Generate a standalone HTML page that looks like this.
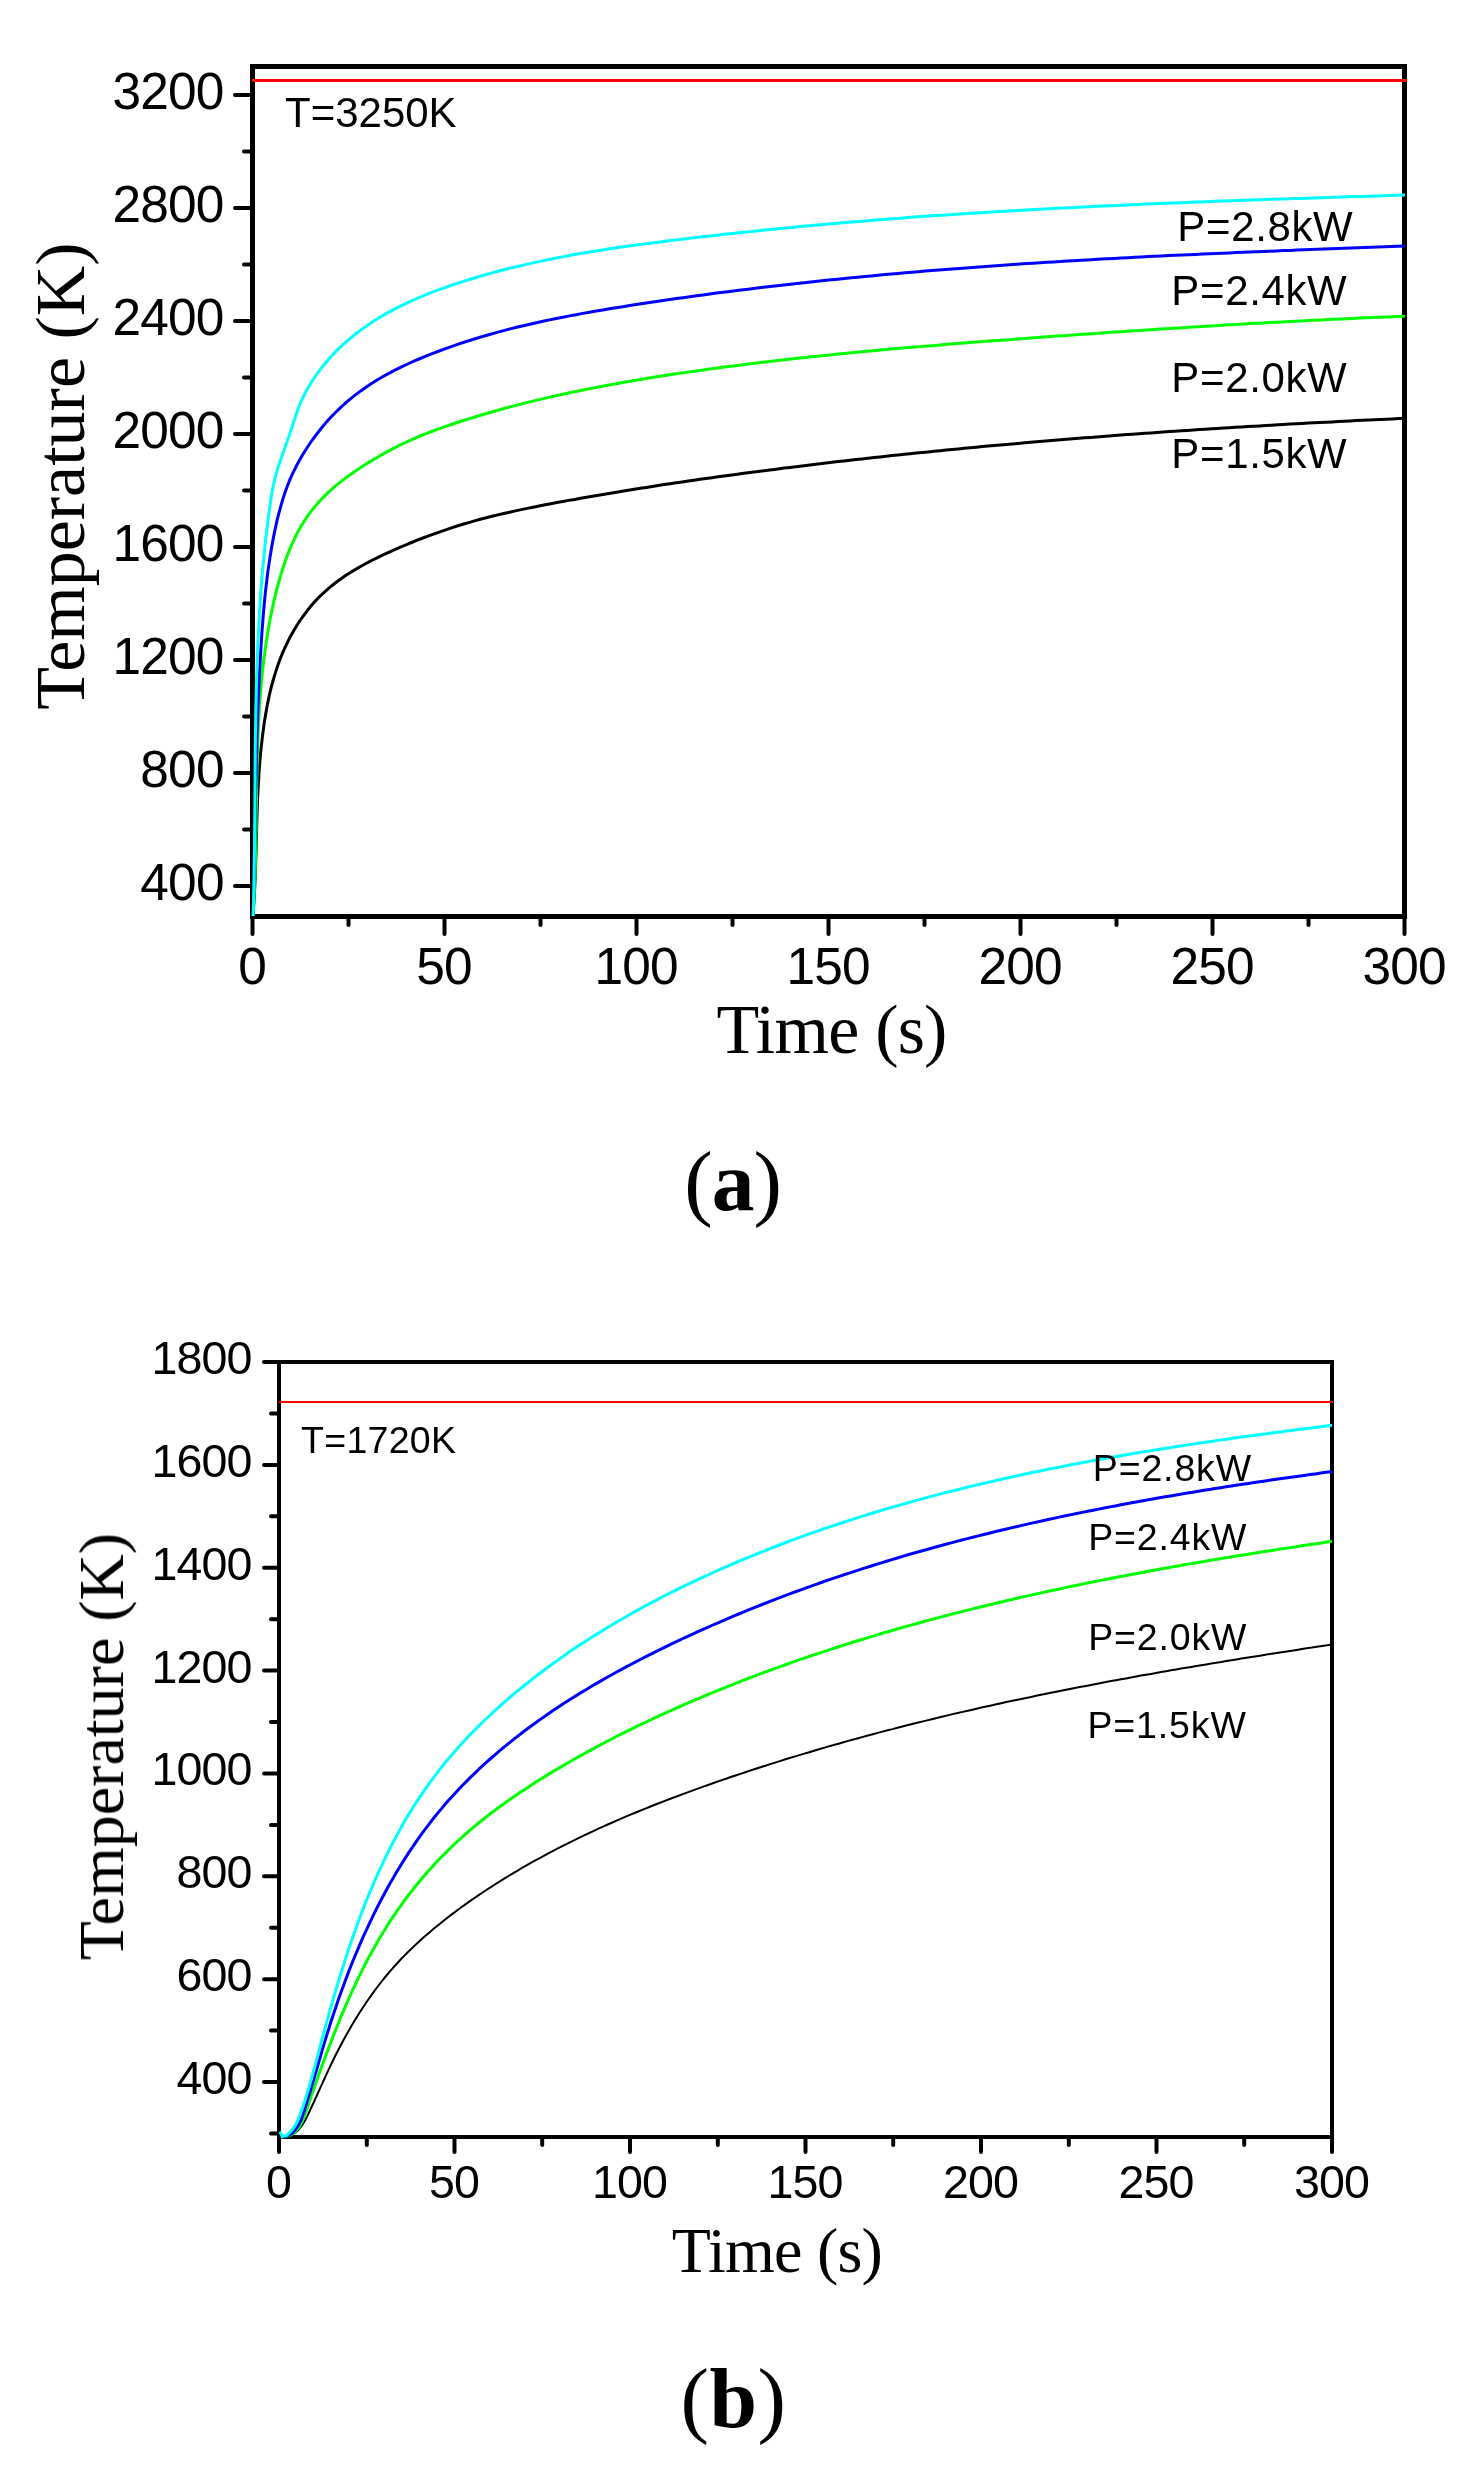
<!DOCTYPE html>
<html><head><meta charset="utf-8"><title>Temperature vs time</title>
<style>
html,body{margin:0;padding:0;background:#fff;}
body{width:1472px;height:2466px;overflow:hidden;}
svg{display:block;}
text{font-family:"Liberation Sans",sans-serif;fill:#000;will-change:transform;}
.ser{font-family:"Liberation Serif",serif;}
.tk{stroke:#000;stroke-linecap:round;fill:none;}
.ax{fill:#000;}
.cv{fill:none;stroke-linejoin:round;stroke-linecap:butt;}
</style></head><body>
<svg width="1472" height="2466" viewBox="0 0 1472 2466">
<rect x="0" y="0" width="1472" height="2466" fill="#fff"/>
<g>
<rect class="ax" x="250.0" y="64.0" width="1157.0" height="5.0"/>
<rect class="ax" x="250.0" y="914.0" width="1157.0" height="5.0"/>
<rect class="ax" x="250.0" y="64.0" width="5.0" height="855.0"/>
<rect class="ax" x="1402.0" y="64.0" width="5.0" height="855.0"/>
<line class="tk" stroke-width="4.0" x1="235.0" y1="886.0" x2="252.5" y2="886.0"/>
<text x="223.7" y="900.0" font-size="51.4" letter-spacing="-0.78" text-anchor="end">400</text>
<line class="tk" stroke-width="4.0" x1="244.0" y1="829.5" x2="252.5" y2="829.5"/>
<line class="tk" stroke-width="4.0" x1="235.0" y1="773.0" x2="252.5" y2="773.0"/>
<text x="223.7" y="787.0" font-size="51.4" letter-spacing="-0.78" text-anchor="end">800</text>
<line class="tk" stroke-width="4.0" x1="244.0" y1="716.5" x2="252.5" y2="716.5"/>
<line class="tk" stroke-width="4.0" x1="235.0" y1="660.0" x2="252.5" y2="660.0"/>
<text x="223.7" y="674.0" font-size="51.4" letter-spacing="-0.78" text-anchor="end">1200</text>
<line class="tk" stroke-width="4.0" x1="244.0" y1="603.5" x2="252.5" y2="603.5"/>
<line class="tk" stroke-width="4.0" x1="235.0" y1="547.0" x2="252.5" y2="547.0"/>
<text x="223.7" y="561.0" font-size="51.4" letter-spacing="-0.78" text-anchor="end">1600</text>
<line class="tk" stroke-width="4.0" x1="244.0" y1="490.5" x2="252.5" y2="490.5"/>
<line class="tk" stroke-width="4.0" x1="235.0" y1="434.0" x2="252.5" y2="434.0"/>
<text x="223.7" y="448.0" font-size="51.4" letter-spacing="-0.78" text-anchor="end">2000</text>
<line class="tk" stroke-width="4.0" x1="244.0" y1="377.5" x2="252.5" y2="377.5"/>
<line class="tk" stroke-width="4.0" x1="235.0" y1="321.0" x2="252.5" y2="321.0"/>
<text x="223.7" y="335.0" font-size="51.4" letter-spacing="-0.78" text-anchor="end">2400</text>
<line class="tk" stroke-width="4.0" x1="244.0" y1="264.5" x2="252.5" y2="264.5"/>
<line class="tk" stroke-width="4.0" x1="235.0" y1="208.0" x2="252.5" y2="208.0"/>
<text x="223.7" y="222.0" font-size="51.4" letter-spacing="-0.78" text-anchor="end">2800</text>
<line class="tk" stroke-width="4.0" x1="244.0" y1="151.5" x2="252.5" y2="151.5"/>
<line class="tk" stroke-width="4.0" x1="235.0" y1="95.0" x2="252.5" y2="95.0"/>
<text x="223.7" y="109.0" font-size="51.4" letter-spacing="-0.78" text-anchor="end">3200</text>
<line class="tk" stroke-width="4.0" x1="252.5" y1="916.5" x2="252.5" y2="934.0"/>
<text x="252.1" y="984.0" font-size="51.4" letter-spacing="-0.78" text-anchor="middle">0</text>
<line class="tk" stroke-width="4.0" x1="348.5" y1="916.5" x2="348.5" y2="925.0"/>
<line class="tk" stroke-width="4.0" x1="444.5" y1="916.5" x2="444.5" y2="934.0"/>
<text x="444.1" y="984.0" font-size="51.4" letter-spacing="-0.78" text-anchor="middle">50</text>
<line class="tk" stroke-width="4.0" x1="540.5" y1="916.5" x2="540.5" y2="925.0"/>
<line class="tk" stroke-width="4.0" x1="636.5" y1="916.5" x2="636.5" y2="934.0"/>
<text x="636.1" y="984.0" font-size="51.4" letter-spacing="-0.78" text-anchor="middle">100</text>
<line class="tk" stroke-width="4.0" x1="732.5" y1="916.5" x2="732.5" y2="925.0"/>
<line class="tk" stroke-width="4.0" x1="828.5" y1="916.5" x2="828.5" y2="934.0"/>
<text x="828.1" y="984.0" font-size="51.4" letter-spacing="-0.78" text-anchor="middle">150</text>
<line class="tk" stroke-width="4.0" x1="924.5" y1="916.5" x2="924.5" y2="925.0"/>
<line class="tk" stroke-width="4.0" x1="1020.5" y1="916.5" x2="1020.5" y2="934.0"/>
<text x="1020.1" y="984.0" font-size="51.4" letter-spacing="-0.78" text-anchor="middle">200</text>
<line class="tk" stroke-width="4.0" x1="1116.5" y1="916.5" x2="1116.5" y2="925.0"/>
<line class="tk" stroke-width="4.0" x1="1212.5" y1="916.5" x2="1212.5" y2="934.0"/>
<text x="1212.1" y="984.0" font-size="51.4" letter-spacing="-0.78" text-anchor="middle">250</text>
<line class="tk" stroke-width="4.0" x1="1308.5" y1="916.5" x2="1308.5" y2="925.0"/>
<line class="tk" stroke-width="4.0" x1="1404.5" y1="916.5" x2="1404.5" y2="934.0"/>
<text x="1404.1" y="984.0" font-size="51.4" letter-spacing="-0.78" text-anchor="middle">300</text>
<path class="cv" stroke="#000" stroke-width="3" d="M253.0,916.0 L253.4,909.9 L253.8,903.9 L254.2,897.9 L254.5,891.8 L254.8,885.8 L255.1,879.7 L255.3,873.7 L255.5,867.6 L255.7,861.6 L255.9,855.5 L256.1,849.5 L256.2,843.5 L256.4,837.4 L256.6,831.4 L256.7,825.3 L256.9,819.3 L257.1,813.3 L257.3,807.3 L257.5,801.2 L257.8,795.2 L258.1,789.2 L258.4,783.2 L258.8,777.1 L259.1,771.1 L259.6,765.1 L260.1,759.1 L260.6,753.1 L261.2,747.1 L261.9,741.1 L262.6,735.1 L263.4,729.1 L264.2,723.1 L265.2,717.1 L266.2,711.1 L267.3,705.1 L268.5,699.2 L269.8,693.3 L271.2,687.4 L272.8,681.5 L274.5,675.7 L276.3,669.9 L278.2,664.2 L280.3,658.5 L282.6,652.9 L285.1,647.3 L287.7,641.9 L290.4,636.5 L293.4,631.2 L296.5,626.0 L299.7,621.0 L303.2,616.1 L306.8,611.3 L310.5,606.6 L314.4,602.1 L318.5,597.7 L322.8,593.6 L327.2,589.6 L331.8,585.7 L336.5,582.0 L341.4,578.5 L346.3,575.1 L351.4,571.9 L356.6,568.8 L361.9,565.7 L367.2,562.8 L372.6,560.0 L378.1,557.3 L383.6,554.7 L389.2,552.1 L394.8,549.6 L400.4,547.2 L406.0,544.8 L411.6,542.5 L417.2,540.2 L422.9,538.0 L428.6,535.9 L434.2,533.8 L439.9,531.8 L445.7,529.8 L451.4,527.9 L457.1,526.0 L462.9,524.3 L468.7,522.6 L474.5,520.9 L480.3,519.3 L486.1,517.8 L492.0,516.3 L497.8,514.9 L503.7,513.5 L509.6,512.2 L515.4,510.9 L521.3,509.6 L527.2,508.4 L533.2,507.2 L539.1,506.0 L545.0,504.8 L550.9,503.7 L556.9,502.6 L562.8,501.5 L568.7,500.4 L574.7,499.4 L580.6,498.3 L586.6,497.2 L592.5,496.2 L598.5,495.2 L604.5,494.2 L610.4,493.2 L616.4,492.2 L622.3,491.2 L628.3,490.2 L634.3,489.3 L640.2,488.3 L646.2,487.4 L652.2,486.4 L658.2,485.5 L664.1,484.6 L670.1,483.7 L676.1,482.8 L682.1,481.9 L688.1,481.1 L694.1,480.2 L700.0,479.3 L706.0,478.5 L712.0,477.7 L718.0,476.8 L724.0,476.0 L730.0,475.2 L736.0,474.4 L742.0,473.6 L748.0,472.8 L754.0,472.0 L760.0,471.2 L766.0,470.4 L772.0,469.7 L778.0,468.9 L784.0,468.1 L790.0,467.4 L796.0,466.7 L802.0,465.9 L808.0,465.2 L814.0,464.5 L820.0,463.7 L826.0,463.0 L832.0,462.3 L838.0,461.6 L844.0,460.9 L850.0,460.3 L856.0,459.6 L862.0,458.9 L868.0,458.2 L874.1,457.6 L880.1,456.9 L886.1,456.3 L892.1,455.6 L898.1,455.0 L904.1,454.3 L910.1,453.7 L916.1,453.1 L922.1,452.5 L928.2,451.9 L934.2,451.3 L940.2,450.7 L946.2,450.1 L952.2,449.5 L958.2,448.9 L964.3,448.3 L970.3,447.7 L976.3,447.2 L982.3,446.6 L988.3,446.1 L994.3,445.5 L1000.4,445.0 L1006.4,444.4 L1012.4,443.9 L1018.4,443.4 L1024.5,442.8 L1030.5,442.3 L1036.5,441.8 L1042.5,441.3 L1048.5,440.8 L1054.6,440.3 L1060.6,439.8 L1066.6,439.3 L1072.6,438.8 L1078.7,438.3 L1084.7,437.8 L1090.7,437.4 L1096.7,436.9 L1102.8,436.4 L1108.8,436.0 L1114.8,435.5 L1120.9,435.1 L1126.9,434.6 L1132.9,434.2 L1138.9,433.8 L1145.0,433.3 L1151.0,432.9 L1157.0,432.5 L1163.1,432.1 L1169.1,431.6 L1175.1,431.2 L1181.2,430.8 L1187.2,430.4 L1193.2,430.0 L1199.2,429.6 L1205.3,429.2 L1211.3,428.8 L1217.3,428.5 L1223.4,428.1 L1229.4,427.7 L1235.4,427.3 L1241.5,427.0 L1247.5,426.6 L1253.6,426.2 L1259.6,425.9 L1265.6,425.5 L1271.7,425.2 L1277.7,424.8 L1283.7,424.5 L1289.8,424.1 L1295.8,423.8 L1301.8,423.5 L1307.9,423.1 L1313.9,422.8 L1320.0,422.5 L1326.0,422.2 L1332.0,421.9 L1338.1,421.5 L1344.1,421.2 L1350.1,420.9 L1356.2,420.6 L1362.2,420.3 L1368.3,420.0 L1374.3,419.7 L1380.3,419.4 L1386.4,419.2 L1392.4,418.9 L1398.5,418.6 L1404.5,418.3"/>
<path class="cv" stroke="#0f0" stroke-width="3" d="M253.0,916.0 L253.4,909.6 L253.8,903.1 L254.1,896.7 L254.4,890.3 L254.7,883.8 L255.0,877.4 L255.2,870.9 L255.4,864.5 L255.5,858.0 L255.7,851.5 L255.8,845.1 L255.9,838.6 L256.1,832.1 L256.2,825.7 L256.2,819.2 L256.3,812.7 L256.4,806.3 L256.5,799.8 L256.6,793.3 L256.7,786.8 L256.8,780.4 L256.9,773.9 L257.1,767.4 L257.2,761.0 L257.4,754.5 L257.6,748.1 L257.8,741.6 L258.0,735.1 L258.3,728.7 L258.6,722.2 L259.0,715.8 L259.3,709.4 L259.7,702.9 L260.2,696.5 L260.7,690.1 L261.3,683.6 L261.9,677.2 L262.5,670.8 L263.3,664.4 L264.0,658.0 L264.9,651.6 L265.8,645.3 L266.7,638.9 L267.8,632.5 L268.9,626.2 L270.0,619.8 L271.3,613.5 L272.6,607.1 L274.0,600.8 L275.5,594.5 L277.1,588.2 L278.8,581.9 L280.6,575.6 L282.5,569.4 L284.5,563.2 L286.7,557.1 L289.0,551.1 L291.5,545.1 L294.2,539.3 L297.0,533.5 L300.1,527.9 L303.4,522.4 L306.8,517.1 L310.6,511.9 L314.6,506.9 L318.8,502.0 L323.2,497.4 L327.8,492.9 L332.5,488.5 L337.5,484.3 L342.5,480.3 L347.7,476.5 L353.0,472.7 L358.4,469.1 L363.8,465.5 L369.3,462.1 L374.8,458.7 L380.4,455.5 L386.0,452.3 L391.7,449.3 L397.4,446.4 L403.2,443.5 L409.1,440.8 L415.0,438.2 L420.9,435.7 L426.9,433.3 L432.9,431.0 L439.0,428.8 L445.0,426.6 L451.2,424.5 L457.3,422.5 L463.4,420.5 L469.6,418.6 L475.8,416.7 L482.0,414.8 L488.2,413.0 L494.4,411.2 L500.6,409.5 L506.8,407.8 L513.0,406.1 L519.3,404.5 L525.6,402.9 L531.8,401.4 L538.1,399.9 L544.4,398.4 L550.7,396.9 L557.0,395.5 L563.3,394.1 L569.6,392.8 L575.9,391.5 L582.2,390.2 L588.6,388.9 L594.9,387.7 L601.3,386.4 L607.6,385.3 L614.0,384.1 L620.3,383.0 L626.7,381.8 L633.1,380.7 L639.4,379.7 L645.8,378.6 L652.2,377.6 L658.6,376.6 L664.9,375.6 L671.3,374.6 L677.7,373.6 L684.1,372.7 L690.5,371.8 L696.9,370.9 L703.3,370.0 L709.7,369.1 L716.1,368.2 L722.5,367.3 L728.9,366.5 L735.3,365.7 L741.7,364.9 L748.1,364.0 L754.5,363.3 L760.9,362.5 L767.4,361.7 L773.8,361.0 L780.2,360.2 L786.6,359.5 L793.0,358.8 L799.4,358.1 L805.9,357.4 L812.3,356.7 L818.7,356.0 L825.1,355.4 L831.5,354.7 L838.0,354.1 L844.4,353.4 L850.8,352.8 L857.3,352.2 L863.7,351.6 L870.1,351.0 L876.5,350.4 L883.0,349.8 L889.4,349.2 L895.8,348.6 L902.3,348.1 L908.7,347.5 L915.1,347.0 L921.6,346.4 L928.0,345.9 L934.5,345.4 L940.9,344.9 L947.3,344.3 L953.8,343.8 L960.2,343.3 L966.6,342.8 L973.1,342.3 L979.5,341.8 L986.0,341.3 L992.4,340.8 L998.8,340.4 L1005.3,339.9 L1011.7,339.4 L1018.2,338.9 L1024.6,338.5 L1031.1,338.0 L1037.5,337.5 L1043.9,337.1 L1050.4,336.6 L1056.8,336.1 L1063.3,335.7 L1069.7,335.2 L1076.2,334.8 L1082.6,334.3 L1089.0,333.9 L1095.5,333.4 L1101.9,333.0 L1108.4,332.5 L1114.8,332.1 L1121.3,331.7 L1127.7,331.2 L1134.1,330.8 L1140.6,330.4 L1147.0,330.0 L1153.5,329.5 L1159.9,329.1 L1166.4,328.7 L1172.8,328.3 L1179.3,327.9 L1185.7,327.5 L1192.2,327.1 L1198.6,326.7 L1205.0,326.3 L1211.5,325.9 L1217.9,325.5 L1224.4,325.1 L1230.8,324.8 L1237.3,324.4 L1243.7,324.0 L1250.2,323.6 L1256.6,323.3 L1263.1,322.9 L1269.5,322.6 L1276.0,322.2 L1282.4,321.9 L1288.9,321.5 L1295.3,321.2 L1301.8,320.9 L1308.2,320.5 L1314.7,320.2 L1321.1,319.9 L1327.6,319.6 L1334.0,319.3 L1340.5,319.0 L1346.9,318.7 L1353.4,318.4 L1359.8,318.1 L1366.3,317.8 L1372.7,317.5 L1379.2,317.2 L1385.6,317.0 L1392.1,316.7 L1398.5,316.5 L1405.0,316.2"/>
<path class="cv" stroke="#00f" stroke-width="3" d="M253.0,916.0 L253.2,909.2 L253.4,902.5 L253.6,895.7 L253.7,888.9 L253.9,882.1 L254.0,875.4 L254.2,868.6 L254.3,861.8 L254.5,855.1 L254.6,848.3 L254.7,841.5 L254.9,834.8 L255.0,828.0 L255.1,821.2 L255.2,814.5 L255.4,807.7 L255.5,801.0 L255.6,794.2 L255.8,787.4 L255.9,780.7 L256.1,773.9 L256.2,767.2 L256.4,760.4 L256.5,753.6 L256.7,746.9 L256.9,740.1 L257.1,733.4 L257.3,726.6 L257.6,719.8 L257.8,713.1 L258.0,706.3 L258.3,699.6 L258.6,692.8 L258.9,686.0 L259.2,679.3 L259.5,672.5 L259.9,665.8 L260.3,659.0 L260.7,652.2 L261.1,645.5 L261.5,638.7 L262.0,632.0 L262.5,625.2 L263.0,618.4 L263.6,611.7 L264.2,604.9 L264.8,598.2 L265.5,591.4 L266.3,584.7 L267.1,578.0 L267.9,571.3 L268.9,564.6 L269.9,557.9 L271.0,551.2 L272.1,544.6 L273.4,537.9 L274.7,531.3 L276.1,524.7 L277.6,518.1 L279.3,511.6 L281.1,505.1 L283.0,498.6 L285.1,492.2 L287.4,485.9 L289.9,479.6 L292.7,473.4 L295.7,467.3 L298.9,461.3 L302.2,455.5 L305.8,449.7 L309.5,444.0 L313.4,438.5 L317.5,433.1 L321.7,427.8 L326.0,422.6 L330.6,417.6 L335.2,412.8 L340.0,408.1 L345.0,403.5 L350.1,399.1 L355.4,394.9 L360.7,390.9 L366.3,387.0 L371.9,383.3 L377.6,379.7 L383.5,376.3 L389.4,373.1 L395.4,369.9 L401.5,366.9 L407.7,364.0 L413.9,361.2 L420.2,358.5 L426.5,355.9 L432.8,353.4 L439.1,351.0 L445.5,348.6 L451.9,346.4 L458.3,344.2 L464.7,342.0 L471.1,340.0 L477.6,338.0 L484.1,336.0 L490.6,334.2 L497.1,332.4 L503.6,330.6 L510.1,328.9 L516.7,327.3 L523.3,325.7 L529.8,324.2 L536.4,322.7 L543.0,321.3 L549.6,319.9 L556.3,318.5 L562.9,317.2 L569.5,315.9 L576.2,314.7 L582.8,313.4 L589.5,312.2 L596.2,311.1 L602.8,310.0 L609.5,308.8 L616.2,307.8 L622.9,306.7 L629.6,305.6 L636.2,304.6 L642.9,303.6 L649.6,302.6 L656.3,301.6 L663.0,300.6 L669.7,299.6 L676.4,298.6 L683.1,297.7 L689.8,296.7 L696.5,295.8 L703.2,294.9 L709.9,294.0 L716.6,293.1 L723.3,292.3 L730.0,291.4 L736.8,290.5 L743.5,289.7 L750.2,288.9 L756.9,288.1 L763.6,287.3 L770.3,286.5 L777.1,285.7 L783.8,284.9 L790.5,284.2 L797.2,283.4 L804.0,282.7 L810.7,282.0 L817.4,281.2 L824.1,280.5 L830.9,279.8 L837.6,279.2 L844.3,278.5 L851.1,277.8 L857.8,277.2 L864.5,276.5 L871.3,275.9 L878.0,275.3 L884.7,274.6 L891.5,274.0 L898.2,273.4 L905.0,272.8 L911.7,272.3 L918.4,271.7 L925.2,271.1 L931.9,270.6 L938.7,270.0 L945.4,269.5 L952.2,269.0 L958.9,268.4 L965.7,267.9 L972.4,267.4 L979.2,266.9 L985.9,266.4 L992.7,265.9 L999.4,265.5 L1006.2,265.0 L1012.9,264.5 L1019.7,264.1 L1026.4,263.6 L1033.2,263.2 L1040.0,262.8 L1046.7,262.3 L1053.5,261.9 L1060.2,261.5 L1067.0,261.1 L1073.7,260.7 L1080.5,260.3 L1087.3,259.9 L1094.0,259.5 L1100.8,259.1 L1107.5,258.8 L1114.3,258.4 L1121.1,258.0 L1127.8,257.7 L1134.6,257.3 L1141.3,257.0 L1148.1,256.6 L1154.9,256.3 L1161.6,256.0 L1168.4,255.6 L1175.2,255.3 L1181.9,255.0 L1188.7,254.7 L1195.4,254.4 L1202.2,254.1 L1209.0,253.8 L1215.7,253.5 L1222.5,253.2 L1229.3,252.9 L1236.0,252.6 L1242.8,252.3 L1249.5,252.0 L1256.3,251.7 L1263.1,251.5 L1269.8,251.2 L1276.6,250.9 L1283.3,250.6 L1290.1,250.4 L1296.9,250.1 L1303.6,249.8 L1310.4,249.6 L1317.2,249.3 L1323.9,249.1 L1330.7,248.8 L1337.4,248.6 L1344.2,248.3 L1350.9,248.1 L1357.7,247.8 L1364.5,247.6 L1371.2,247.3 L1378.0,247.1 L1384.7,246.8 L1391.5,246.6 L1398.2,246.3 L1405.0,246.1"/>
<path class="cv" stroke="#0ff" stroke-width="3" d="M253.2,916.0 L253.4,909.0 L253.6,902.0 L253.7,895.0 L253.9,888.0 L254.0,881.0 L254.1,874.0 L254.2,867.0 L254.3,860.0 L254.4,853.0 L254.5,846.0 L254.6,839.0 L254.6,832.0 L254.7,825.0 L254.8,818.0 L254.8,811.0 L254.9,803.9 L254.9,796.9 L255.0,789.9 L255.0,782.9 L255.1,775.9 L255.1,768.8 L255.2,761.8 L255.2,754.8 L255.3,747.8 L255.4,740.7 L255.5,733.7 L255.6,726.7 L255.7,719.7 L255.8,712.6 L255.9,705.6 L256.1,698.6 L256.3,691.6 L256.4,684.6 L256.6,677.6 L256.9,670.5 L257.1,663.5 L257.3,656.5 L257.6,649.5 L257.9,642.5 L258.2,635.5 L258.6,628.5 L259.0,621.5 L259.4,614.5 L259.8,607.5 L260.3,600.5 L260.7,593.5 L261.3,586.5 L261.8,579.5 L262.4,572.6 L263.0,565.6 L263.7,558.6 L264.4,551.7 L265.1,544.7 L265.9,537.7 L266.7,530.8 L267.6,523.8 L268.4,516.9 L269.4,509.9 L270.4,503.0 L271.4,496.1 L272.6,489.2 L274.0,482.3 L275.6,475.5 L277.6,468.8 L279.8,462.2 L282.1,455.6 L284.5,448.9 L286.8,442.3 L289.2,435.7 L291.4,429.0 L293.5,422.4 L295.7,415.7 L298.0,409.1 L300.6,402.6 L303.5,396.3 L306.8,390.1 L310.3,384.0 L314.1,378.1 L318.1,372.3 L322.4,366.7 L326.9,361.3 L331.6,356.0 L336.4,350.9 L341.5,346.0 L346.7,341.3 L352.0,336.8 L357.5,332.5 L363.1,328.4 L368.8,324.4 L374.6,320.6 L380.5,316.9 L386.5,313.4 L392.7,310.1 L398.9,306.9 L405.2,303.8 L411.5,300.8 L417.9,298.0 L424.4,295.3 L431.0,292.7 L437.6,290.2 L444.2,287.8 L450.9,285.5 L457.6,283.2 L464.3,281.1 L471.0,279.0 L477.7,277.0 L484.5,275.0 L491.2,273.1 L498.0,271.3 L504.8,269.5 L511.6,267.8 L518.4,266.2 L525.3,264.6 L532.1,263.1 L538.9,261.6 L545.8,260.1 L552.7,258.7 L559.5,257.4 L566.4,256.1 L573.3,254.8 L580.2,253.6 L587.1,252.5 L594.0,251.3 L600.9,250.2 L607.9,249.1 L614.8,248.1 L621.7,247.1 L628.7,246.1 L635.6,245.1 L642.6,244.2 L649.5,243.3 L656.5,242.4 L663.4,241.5 L670.4,240.6 L677.3,239.8 L684.3,238.9 L691.3,238.1 L698.2,237.3 L705.2,236.5 L712.2,235.7 L719.1,234.9 L726.1,234.1 L733.1,233.4 L740.0,232.6 L747.0,231.9 L754.0,231.2 L761.0,230.4 L767.9,229.7 L774.9,229.0 L781.9,228.3 L788.9,227.7 L795.8,227.0 L802.8,226.3 L809.8,225.7 L816.8,225.1 L823.8,224.4 L830.8,223.8 L837.7,223.2 L844.7,222.6 L851.7,222.0 L858.7,221.4 L865.7,220.9 L872.7,220.3 L879.7,219.8 L886.7,219.2 L893.7,218.7 L900.6,218.2 L907.6,217.6 L914.6,217.1 L921.6,216.6 L928.6,216.1 L935.6,215.6 L942.6,215.2 L949.6,214.7 L956.6,214.2 L963.6,213.8 L970.6,213.3 L977.6,212.9 L984.6,212.4 L991.6,212.0 L998.6,211.6 L1005.6,211.2 L1012.6,210.8 L1019.6,210.4 L1026.6,210.0 L1033.6,209.6 L1040.6,209.2 L1047.6,208.8 L1054.6,208.4 L1061.6,208.1 L1068.6,207.7 L1075.6,207.4 L1082.7,207.0 L1089.7,206.7 L1096.7,206.3 L1103.7,206.0 L1110.7,205.7 L1117.7,205.4 L1124.7,205.0 L1131.7,204.7 L1138.7,204.4 L1145.7,204.1 L1152.7,203.8 L1159.7,203.5 L1166.7,203.2 L1173.8,203.0 L1180.8,202.7 L1187.8,202.4 L1194.8,202.1 L1201.8,201.9 L1208.8,201.6 L1215.8,201.3 L1222.8,201.1 L1229.8,200.8 L1236.8,200.6 L1243.8,200.3 L1250.9,200.1 L1257.9,199.8 L1264.9,199.6 L1271.9,199.3 L1278.9,199.1 L1285.9,198.9 L1292.9,198.6 L1299.9,198.4 L1306.9,198.2 L1313.9,197.9 L1320.9,197.7 L1327.9,197.5 L1334.9,197.3 L1342.0,197.0 L1349.0,196.8 L1356.0,196.6 L1363.0,196.4 L1370.0,196.2 L1377.0,196.0 L1384.0,195.7 L1391.0,195.5 L1398.0,195.3 L1405.0,195.1"/>
<rect x="252.0" y="79.0" width="1155.0" height="3.0" fill="#f00"/>
<text x="285.0" y="127.0" font-size="42" letter-spacing="0">T=3250K</text>
<text x="1177.3" y="241.3" font-size="42" letter-spacing="0.65">P=2.8kW</text>
<text x="1171.3" y="305.0" font-size="42" letter-spacing="0.65">P=2.4kW</text>
<text x="1171.3" y="391.5" font-size="42" letter-spacing="0.65">P=2.0kW</text>
<text x="1171.3" y="467.5" font-size="42" letter-spacing="0.65">P=1.5kW</text>
<text class="ser" x="831.5" y="1053.4" font-size="70" text-anchor="middle" letter-spacing="-0.8">Time (s)</text>
<text class="ser" transform="translate(84.0,476.0) rotate(-90)" font-size="70" text-anchor="middle">Temperature (K)</text>
<text class="ser" x="732.7" y="1210.0" font-size="85.5" text-anchor="middle" letter-spacing="-1">(<tspan font-weight="bold">a</tspan>)</text>
</g>
<g>
<rect class="ax" x="277.0" y="1360.0" width="1057.0" height="4.0"/>
<rect class="ax" x="277.0" y="2135.0" width="1057.0" height="4.0"/>
<rect class="ax" x="277.0" y="1360.0" width="4.0" height="779.0"/>
<rect class="ax" x="1330.0" y="1360.0" width="4.0" height="779.0"/>
<line class="tk" stroke-width="4.0" x1="271.0" y1="2133.4" x2="279.0" y2="2133.4"/>
<line class="tk" stroke-width="4.0" x1="264.0" y1="2082.0" x2="279.0" y2="2082.0"/>
<text x="251.6" y="2094.0" font-size="46.6" letter-spacing="-0.89" text-anchor="end">400</text>
<line class="tk" stroke-width="4.0" x1="271.0" y1="2030.6" x2="279.0" y2="2030.6"/>
<line class="tk" stroke-width="4.0" x1="264.0" y1="1979.2" x2="279.0" y2="1979.2"/>
<text x="251.6" y="1991.2" font-size="46.6" letter-spacing="-0.89" text-anchor="end">600</text>
<line class="tk" stroke-width="4.0" x1="271.0" y1="1927.7" x2="279.0" y2="1927.7"/>
<line class="tk" stroke-width="4.0" x1="264.0" y1="1876.3" x2="279.0" y2="1876.3"/>
<text x="251.6" y="1888.3" font-size="46.6" letter-spacing="-0.89" text-anchor="end">800</text>
<line class="tk" stroke-width="4.0" x1="271.0" y1="1824.9" x2="279.0" y2="1824.9"/>
<line class="tk" stroke-width="4.0" x1="264.0" y1="1773.4" x2="279.0" y2="1773.4"/>
<text x="251.6" y="1785.4" font-size="46.6" letter-spacing="-0.89" text-anchor="end">1000</text>
<line class="tk" stroke-width="4.0" x1="271.0" y1="1722.0" x2="279.0" y2="1722.0"/>
<line class="tk" stroke-width="4.0" x1="264.0" y1="1670.6" x2="279.0" y2="1670.6"/>
<text x="251.6" y="1682.6" font-size="46.6" letter-spacing="-0.89" text-anchor="end">1200</text>
<line class="tk" stroke-width="4.0" x1="271.0" y1="1619.2" x2="279.0" y2="1619.2"/>
<line class="tk" stroke-width="4.0" x1="264.0" y1="1567.7" x2="279.0" y2="1567.7"/>
<text x="251.6" y="1579.7" font-size="46.6" letter-spacing="-0.89" text-anchor="end">1400</text>
<line class="tk" stroke-width="4.0" x1="271.0" y1="1516.3" x2="279.0" y2="1516.3"/>
<line class="tk" stroke-width="4.0" x1="264.0" y1="1464.9" x2="279.0" y2="1464.9"/>
<text x="251.6" y="1476.9" font-size="46.6" letter-spacing="-0.89" text-anchor="end">1600</text>
<line class="tk" stroke-width="4.0" x1="271.0" y1="1413.4" x2="279.0" y2="1413.4"/>
<line class="tk" stroke-width="4.0" x1="264.0" y1="1362.0" x2="279.0" y2="1362.0"/>
<text x="251.6" y="1374.0" font-size="46.6" letter-spacing="-0.89" text-anchor="end">1800</text>
<line class="tk" stroke-width="4.0" x1="279.0" y1="2137.0" x2="279.0" y2="2152.0"/>
<text x="278.6" y="2198.0" font-size="46.6" letter-spacing="-0.89" text-anchor="middle">0</text>
<line class="tk" stroke-width="4.0" x1="366.8" y1="2137.0" x2="366.8" y2="2145.0"/>
<line class="tk" stroke-width="4.0" x1="454.5" y1="2137.0" x2="454.5" y2="2152.0"/>
<text x="454.1" y="2198.0" font-size="46.6" letter-spacing="-0.89" text-anchor="middle">50</text>
<line class="tk" stroke-width="4.0" x1="542.2" y1="2137.0" x2="542.2" y2="2145.0"/>
<line class="tk" stroke-width="4.0" x1="630.0" y1="2137.0" x2="630.0" y2="2152.0"/>
<text x="629.6" y="2198.0" font-size="46.6" letter-spacing="-0.89" text-anchor="middle">100</text>
<line class="tk" stroke-width="4.0" x1="717.8" y1="2137.0" x2="717.8" y2="2145.0"/>
<line class="tk" stroke-width="4.0" x1="805.5" y1="2137.0" x2="805.5" y2="2152.0"/>
<text x="805.1" y="2198.0" font-size="46.6" letter-spacing="-0.89" text-anchor="middle">150</text>
<line class="tk" stroke-width="4.0" x1="893.2" y1="2137.0" x2="893.2" y2="2145.0"/>
<line class="tk" stroke-width="4.0" x1="981.0" y1="2137.0" x2="981.0" y2="2152.0"/>
<text x="980.6" y="2198.0" font-size="46.6" letter-spacing="-0.89" text-anchor="middle">200</text>
<line class="tk" stroke-width="4.0" x1="1068.8" y1="2137.0" x2="1068.8" y2="2145.0"/>
<line class="tk" stroke-width="4.0" x1="1156.5" y1="2137.0" x2="1156.5" y2="2152.0"/>
<text x="1156.1" y="2198.0" font-size="46.6" letter-spacing="-0.89" text-anchor="middle">250</text>
<line class="tk" stroke-width="4.0" x1="1244.2" y1="2137.0" x2="1244.2" y2="2145.0"/>
<line class="tk" stroke-width="4.0" x1="1332.0" y1="2137.0" x2="1332.0" y2="2152.0"/>
<text x="1331.6" y="2198.0" font-size="46.6" letter-spacing="-0.89" text-anchor="middle">300</text>
<path class="cv" stroke="#000" stroke-width="2" d="M281.0,2137.0 L286.4,2136.8 L291.2,2135.3 L295.3,2132.7 L298.9,2129.4 L302.0,2125.5 L304.7,2121.2 L307.1,2116.6 L309.3,2111.9 L311.5,2107.2 L313.7,2102.5 L315.8,2097.9 L317.9,2093.2 L319.9,2088.6 L322.0,2084.1 L324.1,2079.5 L326.2,2074.9 L328.3,2070.4 L330.4,2065.9 L332.6,2061.3 L334.8,2056.8 L337.1,2052.3 L339.4,2047.8 L341.8,2043.3 L344.2,2038.8 L346.7,2034.3 L349.2,2029.9 L351.7,2025.5 L354.4,2021.1 L357.0,2016.7 L359.8,2012.3 L362.6,2008.0 L365.4,2003.7 L368.3,1999.5 L371.3,1995.3 L374.3,1991.2 L377.3,1987.0 L380.5,1983.0 L383.6,1979.0 L386.9,1975.0 L390.2,1971.1 L393.5,1967.3 L397.0,1963.5 L400.4,1959.8 L404.0,1956.1 L407.5,1952.5 L411.2,1949.0 L414.8,1945.4 L418.6,1942.0 L422.3,1938.6 L426.1,1935.2 L430.0,1931.9 L433.9,1928.6 L437.8,1925.4 L441.8,1922.2 L445.8,1919.0 L449.8,1915.9 L453.8,1912.9 L457.9,1909.8 L462.0,1906.8 L466.1,1903.9 L470.3,1900.9 L474.5,1898.0 L478.7,1895.2 L482.9,1892.3 L487.1,1889.5 L491.3,1886.8 L495.6,1884.0 L499.9,1881.3 L504.2,1878.6 L508.5,1876.0 L512.9,1873.4 L517.2,1870.8 L521.6,1868.2 L526.0,1865.7 L530.4,1863.2 L534.9,1860.7 L539.3,1858.3 L543.8,1855.8 L548.3,1853.4 L552.7,1851.1 L557.3,1848.7 L561.8,1846.4 L566.3,1844.1 L570.9,1841.8 L575.4,1839.6 L580.0,1837.4 L584.6,1835.2 L589.2,1833.0 L593.8,1830.9 L598.4,1828.7 L603.1,1826.6 L607.7,1824.5 L612.4,1822.5 L617.1,1820.4 L621.7,1818.4 L626.4,1816.4 L631.1,1814.4 L635.8,1812.5 L640.6,1810.5 L645.3,1808.6 L650.0,1806.7 L654.8,1804.8 L659.5,1803.0 L664.3,1801.1 L669.0,1799.3 L673.8,1797.5 L678.6,1795.7 L683.4,1793.9 L688.2,1792.1 L693.0,1790.4 L697.8,1788.6 L702.6,1786.9 L707.4,1785.2 L712.2,1783.5 L717.0,1781.8 L721.8,1780.1 L726.7,1778.5 L731.5,1776.8 L736.3,1775.2 L741.2,1773.6 L746.0,1772.0 L750.8,1770.4 L755.7,1768.8 L760.5,1767.2 L765.4,1765.7 L770.2,1764.1 L775.1,1762.6 L779.9,1761.1 L784.8,1759.5 L789.7,1758.0 L794.5,1756.6 L799.4,1755.1 L804.3,1753.6 L809.2,1752.2 L814.0,1750.7 L818.9,1749.3 L823.8,1747.9 L828.7,1746.4 L833.6,1745.0 L838.5,1743.7 L843.4,1742.3 L848.3,1740.9 L853.2,1739.5 L858.1,1738.2 L863.0,1736.9 L867.9,1735.5 L872.8,1734.2 L877.7,1732.9 L882.6,1731.6 L887.5,1730.3 L892.5,1729.1 L897.4,1727.8 L902.3,1726.5 L907.2,1725.3 L912.2,1724.0 L917.1,1722.8 L922.0,1721.6 L927.0,1720.4 L931.9,1719.2 L936.8,1718.0 L941.8,1716.8 L946.7,1715.6 L951.7,1714.4 L956.6,1713.3 L961.6,1712.1 L966.5,1711.0 L971.5,1709.9 L976.5,1708.7 L981.4,1707.6 L986.4,1706.5 L991.3,1705.4 L996.3,1704.3 L1001.3,1703.2 L1006.2,1702.1 L1011.2,1701.1 L1016.2,1700.0 L1021.2,1699.0 L1026.1,1697.9 L1031.1,1696.9 L1036.1,1695.8 L1041.1,1694.8 L1046.1,1693.8 L1051.0,1692.8 L1056.0,1691.8 L1061.0,1690.8 L1066.0,1689.8 L1071.0,1688.8 L1076.0,1687.8 L1081.0,1686.8 L1086.0,1685.9 L1091.0,1684.9 L1096.0,1684.0 L1101.0,1683.0 L1106.0,1682.1 L1111.0,1681.1 L1116.0,1680.2 L1121.0,1679.3 L1126.0,1678.4 L1131.0,1677.5 L1136.0,1676.6 L1141.0,1675.6 L1146.0,1674.8 L1151.0,1673.9 L1156.0,1673.0 L1161.1,1672.1 L1166.1,1671.2 L1171.1,1670.3 L1176.1,1669.5 L1181.1,1668.6 L1186.1,1667.8 L1191.2,1666.9 L1196.2,1666.1 L1201.2,1665.2 L1206.2,1664.4 L1211.2,1663.5 L1216.3,1662.7 L1221.3,1661.9 L1226.3,1661.1 L1231.3,1660.2 L1236.4,1659.4 L1241.4,1658.6 L1246.4,1657.8 L1251.5,1657.0 L1256.5,1656.2 L1261.5,1655.4 L1266.6,1654.6 L1271.6,1653.8 L1276.6,1653.0 L1281.7,1652.2 L1286.7,1651.4 L1291.7,1650.7 L1296.8,1649.9 L1301.8,1649.1 L1306.8,1648.3 L1311.9,1647.6 L1316.9,1646.8 L1321.9,1646.0 L1327.0,1645.3 L1332.0,1644.5"/>
<path class="cv" stroke="#0f0" stroke-width="3" d="M281.0,2137.0 L286.7,2136.5 L291.6,2134.6 L295.6,2131.4 L298.9,2127.5 L301.5,2122.9 L303.7,2118.0 L305.6,2112.8 L307.4,2107.5 L309.2,2102.3 L310.9,2097.1 L312.7,2092.0 L314.5,2086.9 L316.3,2081.8 L318.0,2076.8 L319.8,2071.8 L321.6,2066.8 L323.5,2061.8 L325.3,2056.8 L327.2,2051.8 L329.1,2046.8 L331.0,2041.8 L332.9,2036.8 L334.9,2031.8 L336.9,2026.8 L338.9,2021.9 L340.9,2016.9 L343.0,2011.9 L345.2,2006.9 L347.3,2002.0 L349.5,1997.0 L351.7,1992.1 L354.0,1987.2 L356.3,1982.3 L358.6,1977.4 L361.0,1972.6 L363.4,1967.7 L365.9,1962.9 L368.4,1958.1 L371.0,1953.4 L373.6,1948.6 L376.3,1943.9 L379.0,1939.2 L381.7,1934.6 L384.6,1930.0 L387.4,1925.4 L390.3,1920.9 L393.3,1916.4 L396.4,1911.9 L399.5,1907.5 L402.6,1903.1 L405.8,1898.7 L409.1,1894.4 L412.4,1890.2 L415.7,1886.0 L419.2,1881.8 L422.6,1877.7 L426.2,1873.6 L429.7,1869.5 L433.4,1865.6 L437.0,1861.6 L440.7,1857.7 L444.5,1853.9 L448.3,1850.1 L452.2,1846.3 L456.1,1842.6 L460.1,1839.0 L464.1,1835.4 L468.1,1831.8 L472.2,1828.3 L476.3,1824.9 L480.5,1821.5 L484.7,1818.1 L488.9,1814.8 L493.2,1811.6 L497.5,1808.3 L501.8,1805.2 L506.2,1802.0 L510.6,1798.9 L515.0,1795.9 L519.5,1792.8 L524.0,1789.9 L528.5,1786.9 L533.0,1784.0 L537.6,1781.1 L542.1,1778.2 L546.7,1775.4 L551.3,1772.6 L556.0,1769.8 L560.6,1767.1 L565.3,1764.4 L569.9,1761.7 L574.6,1759.0 L579.3,1756.4 L584.0,1753.7 L588.8,1751.1 L593.5,1748.6 L598.3,1746.0 L603.0,1743.5 L607.8,1741.0 L612.6,1738.5 L617.4,1736.0 L622.2,1733.6 L627.1,1731.2 L631.9,1728.8 L636.7,1726.4 L641.6,1724.1 L646.5,1721.8 L651.4,1719.5 L656.2,1717.2 L661.1,1714.9 L666.1,1712.7 L671.0,1710.5 L675.9,1708.3 L680.8,1706.1 L685.8,1703.9 L690.7,1701.8 L695.7,1699.7 L700.7,1697.6 L705.6,1695.5 L710.6,1693.4 L715.6,1691.4 L720.6,1689.3 L725.6,1687.3 L730.6,1685.3 L735.6,1683.3 L740.6,1681.4 L745.7,1679.4 L750.7,1677.5 L755.7,1675.6 L760.8,1673.7 L765.8,1671.8 L770.9,1670.0 L776.0,1668.1 L781.0,1666.3 L786.1,1664.5 L791.2,1662.7 L796.2,1660.9 L801.3,1659.2 L806.4,1657.4 L811.5,1655.7 L816.6,1654.0 L821.7,1652.3 L826.8,1650.6 L832.0,1648.9 L837.1,1647.3 L842.2,1645.6 L847.4,1644.0 L852.5,1642.4 L857.6,1640.8 L862.8,1639.2 L867.9,1637.6 L873.1,1636.1 L878.2,1634.5 L883.4,1633.0 L888.6,1631.5 L893.8,1630.0 L898.9,1628.5 L904.1,1627.0 L909.3,1625.6 L914.5,1624.1 L919.7,1622.7 L924.9,1621.3 L930.1,1619.9 L935.3,1618.5 L940.5,1617.1 L945.7,1615.7 L950.9,1614.4 L956.1,1613.0 L961.4,1611.7 L966.6,1610.4 L971.8,1609.1 L977.0,1607.8 L982.3,1606.5 L987.5,1605.2 L992.8,1604.0 L998.0,1602.7 L1003.3,1601.5 L1008.5,1600.2 L1013.8,1599.0 L1019.0,1597.8 L1024.3,1596.6 L1029.5,1595.4 L1034.8,1594.3 L1040.1,1593.1 L1045.3,1591.9 L1050.6,1590.8 L1055.9,1589.7 L1061.2,1588.5 L1066.4,1587.4 L1071.7,1586.3 L1077.0,1585.2 L1082.3,1584.1 L1087.6,1583.0 L1092.9,1582.0 L1098.2,1580.9 L1103.5,1579.9 L1108.8,1578.8 L1114.1,1577.8 L1119.4,1576.8 L1124.7,1575.7 L1130.0,1574.7 L1135.3,1573.7 L1140.6,1572.7 L1145.9,1571.8 L1151.2,1570.8 L1156.5,1569.8 L1161.8,1568.8 L1167.1,1567.9 L1172.4,1566.9 L1177.7,1566.0 L1183.1,1565.1 L1188.4,1564.1 L1193.7,1563.2 L1199.0,1562.3 L1204.3,1561.4 L1209.6,1560.5 L1215.0,1559.6 L1220.3,1558.7 L1225.6,1557.8 L1230.9,1557.0 L1236.2,1556.1 L1241.6,1555.2 L1246.9,1554.4 L1252.2,1553.5 L1257.5,1552.7 L1262.8,1551.8 L1268.2,1551.0 L1273.5,1550.2 L1278.8,1549.3 L1284.1,1548.5 L1289.4,1547.7 L1294.8,1546.9 L1300.1,1546.1 L1305.4,1545.3 L1310.7,1544.5 L1316.0,1543.7 L1321.4,1542.9 L1326.7,1542.1 L1332.0,1541.3"/>
<path class="cv" stroke="#00f" stroke-width="3" d="M281.0,2137.0 L286.8,2136.1 L291.5,2133.6 L295.3,2129.9 L298.3,2125.4 L300.8,2120.4 L302.8,2115.0 L304.7,2109.4 L306.4,2103.9 L308.1,2098.4 L309.7,2093.0 L311.3,2087.5 L312.9,2082.2 L314.5,2076.8 L316.1,2071.4 L317.6,2066.1 L319.1,2060.8 L320.7,2055.5 L322.2,2050.2 L323.8,2044.9 L325.4,2039.6 L327.0,2034.4 L328.7,2029.1 L330.3,2023.8 L332.0,2018.5 L333.8,2013.2 L335.6,2007.9 L337.4,2002.6 L339.2,1997.3 L341.1,1992.0 L343.1,1986.7 L345.0,1981.4 L347.0,1976.1 L349.0,1970.8 L351.1,1965.5 L353.2,1960.3 L355.4,1955.0 L357.6,1949.8 L359.8,1944.6 L362.1,1939.4 L364.4,1934.2 L366.8,1929.1 L369.2,1923.9 L371.6,1918.8 L374.1,1913.7 L376.6,1908.6 L379.2,1903.5 L381.8,1898.5 L384.5,1893.5 L387.2,1888.5 L389.9,1883.6 L392.8,1878.7 L395.6,1873.8 L398.5,1869.0 L401.4,1864.2 L404.4,1859.4 L407.5,1854.6 L410.6,1849.9 L413.7,1845.3 L416.9,1840.7 L420.1,1836.1 L423.4,1831.6 L426.8,1827.1 L430.2,1822.6 L433.6,1818.2 L437.1,1813.9 L440.7,1809.6 L444.3,1805.3 L447.9,1801.1 L451.7,1797.0 L455.4,1792.9 L459.2,1788.8 L463.1,1784.8 L467.0,1780.9 L470.9,1776.9 L474.9,1773.1 L478.9,1769.2 L483.0,1765.4 L487.1,1761.7 L491.3,1758.0 L495.5,1754.3 L499.8,1750.7 L504.0,1747.1 L508.4,1743.6 L512.7,1740.1 L517.1,1736.6 L521.5,1733.2 L526.0,1729.8 L530.5,1726.5 L535.0,1723.2 L539.6,1719.9 L544.2,1716.7 L548.8,1713.5 L553.4,1710.3 L558.1,1707.2 L562.8,1704.1 L567.6,1701.1 L572.3,1698.0 L577.1,1695.1 L581.9,1692.1 L586.8,1689.2 L591.6,1686.3 L596.5,1683.4 L601.4,1680.6 L606.3,1677.8 L611.3,1675.0 L616.2,1672.3 L621.2,1669.6 L626.2,1666.9 L631.2,1664.2 L636.2,1661.6 L641.3,1659.0 L646.3,1656.4 L651.4,1653.8 L656.4,1651.3 L661.5,1648.8 L666.6,1646.3 L671.7,1643.9 L676.8,1641.4 L681.9,1639.0 L687.1,1636.6 L692.2,1634.3 L697.3,1631.9 L702.5,1629.6 L707.6,1627.3 L712.8,1625.0 L718.0,1622.8 L723.1,1620.6 L728.3,1618.3 L733.5,1616.2 L738.7,1614.0 L743.9,1611.8 L749.1,1609.7 L754.3,1607.6 L759.5,1605.5 L764.7,1603.5 L770.0,1601.4 L775.2,1599.4 L780.5,1597.4 L785.7,1595.4 L791.0,1593.4 L796.2,1591.5 L801.5,1589.6 L806.8,1587.6 L812.0,1585.8 L817.3,1583.9 L822.6,1582.0 L827.9,1580.2 L833.2,1578.4 L838.5,1576.6 L843.8,1574.8 L849.2,1573.1 L854.5,1571.3 L859.8,1569.6 L865.1,1567.9 L870.5,1566.2 L875.8,1564.5 L881.2,1562.9 L886.5,1561.2 L891.9,1559.6 L897.3,1558.0 L902.6,1556.4 L908.0,1554.8 L913.4,1553.3 L918.8,1551.8 L924.2,1550.2 L929.6,1548.7 L935.0,1547.2 L940.4,1545.8 L945.8,1544.3 L951.2,1542.9 L956.6,1541.4 L962.0,1540.0 L967.4,1538.6 L972.9,1537.2 L978.3,1535.9 L983.7,1534.5 L989.2,1533.2 L994.6,1531.8 L1000.1,1530.5 L1005.5,1529.2 L1011.0,1527.9 L1016.4,1526.7 L1021.9,1525.4 L1027.4,1524.1 L1032.8,1522.9 L1038.3,1521.7 L1043.8,1520.5 L1049.3,1519.3 L1054.8,1518.1 L1060.2,1516.9 L1065.7,1515.8 L1071.2,1514.6 L1076.7,1513.5 L1082.2,1512.4 L1087.7,1511.3 L1093.2,1510.2 L1098.7,1509.1 L1104.3,1508.0 L1109.8,1506.9 L1115.3,1505.9 L1120.8,1504.8 L1126.3,1503.8 L1131.9,1502.8 L1137.4,1501.8 L1142.9,1500.8 L1148.5,1499.8 L1154.0,1498.8 L1159.5,1497.8 L1165.1,1496.8 L1170.6,1495.9 L1176.1,1494.9 L1181.7,1494.0 L1187.2,1493.1 L1192.8,1492.2 L1198.3,1491.2 L1203.9,1490.3 L1209.5,1489.4 L1215.0,1488.6 L1220.6,1487.7 L1226.1,1486.8 L1231.7,1486.0 L1237.3,1485.1 L1242.8,1484.2 L1248.4,1483.4 L1253.9,1482.6 L1259.5,1481.8 L1265.1,1480.9 L1270.7,1480.1 L1276.2,1479.3 L1281.8,1478.5 L1287.4,1477.7 L1293.0,1476.9 L1298.5,1476.2 L1304.1,1475.4 L1309.7,1474.6 L1315.3,1473.9 L1320.8,1473.1 L1326.4,1472.3 L1332.0,1471.6"/>
<path class="cv" stroke="#0ff" stroke-width="3" d="M279.8,2131.5 L282.3,2136.5 L287.0,2135.2 L291.4,2130.9 L294.8,2126.1 L297.6,2121.0 L299.8,2115.6 L301.8,2110.1 L303.6,2104.6 L305.4,2099.1 L307.1,2093.6 L308.8,2088.1 L310.4,2082.6 L311.9,2077.0 L313.5,2071.5 L315.0,2065.9 L316.5,2060.3 L317.9,2054.8 L319.4,2049.2 L320.9,2043.6 L322.4,2038.0 L323.9,2032.4 L325.4,2026.8 L327.0,2021.2 L328.5,2015.6 L330.1,2009.9 L331.7,2004.3 L333.3,1998.7 L334.9,1993.1 L336.6,1987.5 L338.3,1981.9 L340.0,1976.3 L341.7,1970.7 L343.5,1965.1 L345.3,1959.5 L347.1,1953.9 L348.9,1948.4 L350.8,1942.8 L352.7,1937.3 L354.7,1931.7 L356.7,1926.2 L358.7,1920.7 L360.7,1915.3 L362.8,1909.8 L364.9,1904.3 L367.1,1898.9 L369.3,1893.5 L371.6,1888.1 L373.9,1882.8 L376.2,1877.4 L378.6,1872.1 L381.0,1866.8 L383.5,1861.6 L386.0,1856.3 L388.6,1851.1 L391.2,1846.0 L393.9,1840.8 L396.6,1835.7 L399.4,1830.6 L402.2,1825.6 L405.1,1820.6 L408.0,1815.6 L411.0,1810.7 L414.1,1805.8 L417.2,1800.9 L420.4,1796.1 L423.7,1791.3 L427.0,1786.6 L430.3,1781.9 L433.8,1777.3 L437.3,1772.7 L440.8,1768.1 L444.4,1763.6 L448.1,1759.2 L451.9,1754.7 L455.7,1750.4 L459.5,1746.0 L463.5,1741.8 L467.4,1737.5 L471.5,1733.3 L475.5,1729.2 L479.6,1725.1 L483.8,1721.0 L488.0,1717.0 L492.3,1713.0 L496.6,1709.1 L500.9,1705.2 L505.3,1701.3 L509.7,1697.5 L514.2,1693.7 L518.7,1690.0 L523.2,1686.3 L527.8,1682.7 L532.3,1679.1 L536.9,1675.5 L541.6,1672.0 L546.3,1668.5 L551.0,1665.0 L555.7,1661.6 L560.4,1658.2 L565.2,1654.9 L570.0,1651.6 L574.8,1648.3 L579.7,1645.1 L584.5,1641.9 L589.4,1638.8 L594.3,1635.6 L599.3,1632.6 L604.2,1629.5 L609.2,1626.5 L614.2,1623.5 L619.2,1620.6 L624.3,1617.7 L629.3,1614.8 L634.4,1611.9 L639.5,1609.1 L644.6,1606.3 L649.7,1603.6 L654.9,1600.9 L660.0,1598.2 L665.2,1595.5 L670.4,1592.9 L675.6,1590.3 L680.8,1587.7 L686.1,1585.2 L691.3,1582.6 L696.6,1580.2 L701.8,1577.7 L707.1,1575.3 L712.4,1572.9 L717.7,1570.5 L723.0,1568.1 L728.3,1565.8 L733.7,1563.5 L739.0,1561.2 L744.4,1559.0 L749.7,1556.8 L755.1,1554.6 L760.5,1552.4 L765.9,1550.3 L771.3,1548.1 L776.7,1546.0 L782.1,1544.0 L787.5,1541.9 L792.9,1539.9 L798.4,1537.9 L803.8,1535.9 L809.3,1533.9 L814.8,1532.0 L820.2,1530.1 L825.7,1528.2 L831.2,1526.4 L836.7,1524.5 L842.2,1522.7 L847.7,1520.9 L853.3,1519.1 L858.8,1517.4 L864.3,1515.6 L869.9,1513.9 L875.4,1512.2 L881.0,1510.5 L886.6,1508.9 L892.1,1507.3 L897.7,1505.6 L903.3,1504.1 L908.9,1502.5 L914.5,1500.9 L920.1,1499.4 L925.7,1497.9 L931.3,1496.4 L936.9,1494.9 L942.6,1493.4 L948.2,1492.0 L953.8,1490.6 L959.5,1489.2 L965.1,1487.8 L970.8,1486.4 L976.4,1485.0 L982.1,1483.7 L987.8,1482.4 L993.4,1481.1 L999.1,1479.8 L1004.8,1478.5 L1010.5,1477.2 L1016.2,1476.0 L1021.9,1474.8 L1027.5,1473.5 L1033.2,1472.3 L1039.0,1471.2 L1044.7,1470.0 L1050.4,1468.8 L1056.1,1467.7 L1061.8,1466.6 L1067.5,1465.5 L1073.2,1464.3 L1079.0,1463.3 L1084.7,1462.2 L1090.4,1461.1 L1096.2,1460.1 L1101.9,1459.0 L1107.6,1458.0 L1113.4,1457.0 L1119.1,1456.0 L1124.9,1455.0 L1130.6,1454.0 L1136.4,1453.1 L1142.1,1452.1 L1147.9,1451.2 L1153.6,1450.2 L1159.4,1449.3 L1165.1,1448.4 L1170.9,1447.5 L1176.7,1446.6 L1182.4,1445.7 L1188.2,1444.8 L1193.9,1444.0 L1199.7,1443.1 L1205.4,1442.2 L1211.2,1441.4 L1217.0,1440.6 L1222.7,1439.7 L1228.5,1438.9 L1234.2,1438.1 L1240.0,1437.3 L1245.8,1436.5 L1251.5,1435.7 L1257.3,1434.9 L1263.0,1434.2 L1268.8,1433.4 L1274.5,1432.6 L1280.3,1431.9 L1286.0,1431.1 L1291.8,1430.4 L1297.5,1429.6 L1303.3,1428.9 L1309.0,1428.2 L1314.8,1427.5 L1320.5,1426.7 L1326.3,1426.0 L1332.0,1425.3"/>
<rect x="279.0" y="1401.0" width="1054.0" height="2.0" fill="#f00"/>
<text x="301.0" y="1452.5" font-size="37.5" letter-spacing="0.3">T=1720K</text>
<text x="1092.8" y="1480.5" font-size="37.5" letter-spacing="0.85">P=2.8kW</text>
<text x="1088.2" y="1549.7" font-size="37.5" letter-spacing="0.85">P=2.4kW</text>
<text x="1088.2" y="1649.7" font-size="37.5" letter-spacing="0.85">P=2.0kW</text>
<text x="1087.5" y="1738.0" font-size="37.5" letter-spacing="0.85">P=1.5kW</text>
<text class="ser" x="777.0" y="2272.0" font-size="64" text-anchor="middle" letter-spacing="-0.75">Time (s)</text>
<text class="ser" transform="translate(123.0,1746.5) rotate(-90)" font-size="64" text-anchor="middle">Temperature (K)</text>
<text class="ser" x="733.5" y="2426.6" font-size="85.5" text-anchor="middle" letter-spacing="0.5">(<tspan font-weight="bold">b</tspan>)</text>
</g>
</svg></body></html>
